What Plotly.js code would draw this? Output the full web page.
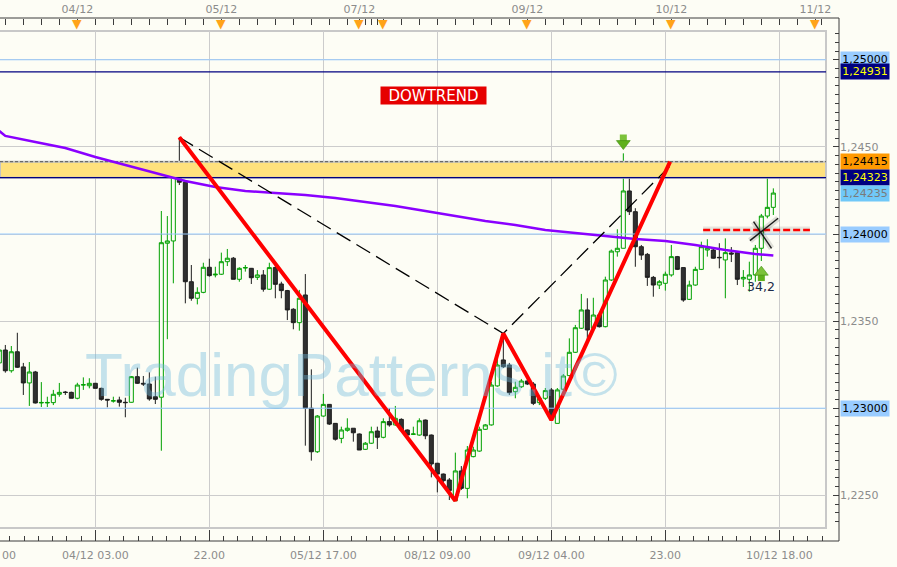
<!DOCTYPE html>
<html><head><meta charset="utf-8">
<script src="https://cdn.plot.ly/plotly-3.0.1.min.js"></script>
<style>html,body{margin:0;padding:0;background:#fdfdf5;}#chart{width:897px;height:567px;}</style>
</head><body><div id="chart"></div>
<script>
// ---------------- DATA ----------------
const slots = [-1,0,1,2,3,4,5,6,7,8,9,10,11,12,13,14,15,16,17,18,19,20,21,22,23,24,25,26,27,28,29,30,31,32,33,34,35,36,37,38,39,40,41,42,43,44,45,46,47,48,49,50,51,52,53,54,55,56,57,58,59,60,61,62,63,64,65,66,67,68,69,70,71,72,73,74,75,76,77,78,79,80,81,82,83,84,85,86,87,88,89,90,91,92,93,94,95,96,97,98,99,100,101,102,103,104,105,106,107,108,109,110,111,112,113,114,115,116,117,118,119,120,121,122,123,124,125,126,127,128];
const openP = [1.23260,1.23334,1.23215,1.23324,1.23237,1.23145,1.23208,1.23030,1.23030,1.23032,1.23080,1.23093,1.23091,1.23057,1.23133,1.23129,1.23143,1.23114,1.23051,1.23041,1.23047,1.23034,1.23034,1.23181,1.23143,1.23139,1.23066,1.23063,1.23947,1.23960,1.24348,1.24297,1.23726,1.23631,1.23665,1.23809,1.23765,1.23769,1.23841,1.23861,1.23740,1.23805,1.23803,1.23751,1.23765,1.23683,1.23807,1.23713,1.23675,1.23568,1.23491,1.23650,1.23000,1.22750,1.22955,1.23022,1.22913,1.22827,1.22873,1.22885,1.22852,1.22764,1.22799,1.22869,1.22833,1.22923,1.22904,1.22936,1.22875,1.22850,1.22846,1.22932,1.22846,1.22684,1.22622,1.22588,1.22469,1.22640,1.22540,1.22722,1.22754,1.22879,1.22904,1.23128,1.23277,1.23248,1.23095,1.23123,1.23156,1.23139,1.23032,1.23057,1.23105,1.22913,1.23109,1.23187,1.23321,1.23459,1.23564,1.23459,1.23535,1.23468,1.23736,1.23898,1.23918,1.24247,1.24128,1.23927,1.23883,1.23751,1.23707,1.23717,1.23765,1.23870,1.23807,1.23625,1.23707,1.23797,1.23908,1.23908,1.23866,1.23851,1.23891,1.23893,1.23742,1.23740,1.23765,1.23918,1.24103,1.24153];
const highP = [1.23346,1.23363,1.23357,1.23433,1.23260,1.23265,1.23214,1.23150,1.23066,1.23105,1.23145,1.23099,1.23095,1.23146,1.23177,1.23172,1.23145,1.23118,1.23053,1.23066,1.23066,1.23060,1.23185,1.23233,1.23185,1.23206,1.23181,1.24132,1.24103,1.24350,1.24555,1.24310,1.23822,1.23694,1.23835,1.23858,1.23812,1.23893,1.23914,1.23868,1.23809,1.23822,1.23805,1.23793,1.23793,1.23835,1.23835,1.23726,1.23679,1.23574,1.23679,1.23770,1.23223,1.22961,1.23082,1.23024,1.22915,1.22894,1.22942,1.22886,1.22855,1.22806,1.22894,1.22894,1.22942,1.23000,1.23013,1.22942,1.22878,1.22894,1.22942,1.22935,1.22849,1.22686,1.22625,1.22599,1.22745,1.22668,1.22783,1.22779,1.22894,1.22909,1.23152,1.23305,1.23429,1.23260,1.23152,1.23168,1.23164,1.23150,1.23064,1.23116,1.23116,1.23116,1.23196,1.23401,1.23478,1.23656,1.23631,1.23634,1.23547,1.23755,1.23911,1.24027,1.24463,1.24329,1.24148,1.23937,1.23891,1.23759,1.23736,1.23784,1.23937,1.23874,1.23808,1.23732,1.23812,1.23956,1.23970,1.23920,1.23947,1.23975,1.23925,1.23897,1.23793,1.23841,1.23937,1.24115,1.24339,1.24262];
const lowP = [1.23248,1.23204,1.23204,1.23231,1.23076,1.23013,1.23027,1.23007,1.23007,1.23018,1.23066,1.23076,1.23057,1.23051,1.23105,1.23114,1.23114,1.23043,1.23005,1.23032,1.23009,1.22948,1.23032,1.23139,1.23128,1.23043,1.23024,1.22756,1.23396,1.23717,1.24281,1.23602,1.23617,1.23596,1.23660,1.23755,1.23751,1.23765,1.23816,1.23740,1.23726,1.23784,1.23713,1.23736,1.23669,1.23679,1.23631,1.23631,1.23506,1.23453,1.23445,1.22785,1.22699,1.22743,1.22951,1.22904,1.22814,1.22799,1.22865,1.22808,1.22760,1.22760,1.22795,1.22766,1.22827,1.22894,1.22900,1.22865,1.22841,1.22846,1.22842,1.22822,1.22603,1.22517,1.22569,1.22473,1.22469,1.22531,1.22483,1.22718,1.22750,1.22875,1.22900,1.23123,1.23231,1.23076,1.23057,1.23116,1.23133,1.23018,1.23018,1.23047,1.22932,1.22913,1.23105,1.23185,1.23317,1.23455,1.23392,1.23455,1.23463,1.23464,1.23730,1.23870,1.23917,1.24109,1.23812,1.23851,1.23702,1.23640,1.23684,1.23675,1.23755,1.23793,1.23611,1.23621,1.23703,1.23793,1.23870,1.23859,1.23803,1.23631,1.23839,1.23707,1.23696,1.23669,1.23726,1.23845,1.24090,1.24109];
const closeP = [1.23334,1.23215,1.23324,1.23235,1.23145,1.23208,1.23030,1.23033,1.23033,1.23080,1.23091,1.23090,1.23057,1.23133,1.23135,1.23143,1.23114,1.23051,1.23047,1.23043,1.23034,1.23032,1.23181,1.23143,1.23139,1.23053,1.23051,1.23950,1.23960,1.24348,1.24297,1.23726,1.23631,1.23665,1.23809,1.23761,1.23769,1.23841,1.23861,1.23740,1.23803,1.23807,1.23749,1.23765,1.23683,1.23807,1.23711,1.23675,1.23564,1.23491,1.23631,1.23000,1.22750,1.22955,1.23022,1.22909,1.22822,1.22875,1.22885,1.22859,1.22760,1.22799,1.22865,1.22833,1.22923,1.22904,1.22942,1.22875,1.22846,1.22852,1.22928,1.22842,1.22680,1.22622,1.22584,1.22527,1.22640,1.22540,1.22760,1.22760,1.22879,1.22904,1.23133,1.23248,1.23238,1.23089,1.23120,1.23156,1.23139,1.23028,1.23057,1.23101,1.22951,1.23105,1.23185,1.23321,1.23462,1.23564,1.23449,1.23535,1.23468,1.23736,1.23902,1.23918,1.24247,1.24128,1.23927,1.23879,1.23751,1.23707,1.23726,1.23769,1.23870,1.23797,1.23621,1.23707,1.23797,1.23927,1.23918,1.23861,1.23864,1.23893,1.23885,1.23740,1.23751,1.23765,1.23918,1.24103,1.24153,1.24235];

// moving average (purple)
const maX = [-1,0,5,10,15,20,25,30,35,40,45,50,55,60,65,70,75,80,85,90,95,100,105,110,115,120,125,128];
const maY = [1.24591,1.24563,1.24528,1.24494,1.24442,1.24396,1.24350,1.24304,1.24270,1.24247,1.24235,1.24224,1.24207,1.24184,1.24161,1.24132,1.24103,1.24075,1.24052,1.24023,1.24006,1.23989,1.23971,1.23960,1.23937,1.23908,1.23885,1.23876];

// Dow-trend zigzag (red) and dashed swing line
const zigX = [29, 75, 83, 91, 110.8];
const zigY = [1.24555, 1.22469, 1.23429, 1.22932, 1.24415];
const swingX = [29, 83, 111.3];
const swingY = [1.24555, 1.23429, 1.24408];

// horizontal levels
const blueLevels = [1.25000, 1.24000, 1.23000];
const navyLevels = [1.24931, 1.24323];
const resistLevel = 1.24415;
const bandLevels = [1.24323, 1.24415];
const breakX = [116.3, 134.1];
const breakY = [1.24023, 1.24023];
const crossAX = [124.1, 128.8], crossAY = [1.23962, 1.24090];
const crossBX = [124.7, 127.7], crossBY = [1.24071, 1.23918];

// signals
const sigDownX = [103], sigDownHead = [1.24519], sigDownShaft = [1.24551];
const sigUpX = [126], sigUpHead = [1.23781], sigUpShaft = [1.23750];
const sigLabel = ["34,2"], sigLabelY = [1.23696];

// axes labels
const gridSlots = [15, 34, 53, 72, 91, 110, 129];
const gridLabels = ["04/12 03.00", "22.00", "05/12 17.00", "08/12 09.00", "09/12 04.00", "23.00", "10/12 18.00"];
const edgeLabel = "00";   // visible tail of the previous label at the left edge
const dayStarts = [12, 36, 59, 63, 87, 111, 135];
const dayLabels = ["04/12", "05/12", "07/12", "", "09/12", "10/12", "11/12"];
const yTickVals = [1.2250, 1.2300, 1.2350, 1.2400, 1.2450, 1.2500];
const yTickText = ["1,2250", "", "1,2350", "", "1,2450", ""];
const tagVals = [1.25000, 1.24931, 1.24415, 1.24323, closeP[closeP.length - 1], 1.24000, 1.23000];

// ---------------- LAYOUT HELPERS ----------------
const W = 897, H = 567;
const px = v => v / W, py = v => 1 - v / H;
const slotW = 6, slot0Px = 5.33;
const plotR = 826, plotT = 31, plotB = 528;
const xr = [(0 - slot0Px) / slotW, (plotR - slot0Px) / slotW];
const yr = [1.223124, 1.251652];
const xDomW = plotR / W;
const bg = '#fdfdf5';
const FONT = 'DejaVu Sans, Verdana, sans-serif';

function hlines(vals) {
  const x = [], y = [];
  vals.forEach(v => { x.push(xr[0], xr[1], null); y.push(v, v, null); });
  return {x, y};
}

// top-axis ticks
const topTicks = [], topText = [];
for (let t = dayStarts[0] - 3; t >= 0; t -= 3) { topTicks.push(t); topText.push(''); }
dayStarts.forEach((d, i) => {
  const next = i + 1 < dayStarts.length ? dayStarts[i + 1] : xr[1] + 1;
  const step = (next - d) < 12 ? 1 : 3;
  for (let t = d; t < next && t <= xr[1]; t += step) { topTicks.push(t); topText.push(t === d ? dayLabels[i] : ''); }
});

const traces = [];
traces.push({type: 'scatter', mode: 'lines', x: [xr[0], xr[1], xr[1], xr[0], xr[0]],
  y: [bandLevels[0], bandLevels[0], bandLevels[1], bandLevels[1], bandLevels[0]],
  fill: 'toself', fillcolor: '#ffe17d', line: {color: '#c4c4c4', width: 2}, hoverinfo: 'skip'});
const bl = hlines(blueLevels);
traces.push({type: 'scatter', mode: 'lines', x: bl.x, y: bl.y, line: {color: '#99ccff', width: 1}, hoverinfo: 'skip'});
const nl = hlines(navyLevels);
traces.push({type: 'scatter', mode: 'lines', x: nl.x, y: nl.y, line: {color: '#000080', width: 1.3}, hoverinfo: 'skip'});
const rl = hlines([resistLevel]);
traces.push({type: 'scatter', mode: 'lines', x: rl.x, y: rl.y, line: {color: '#555555', width: 1, dash: '3px,2px'}, hoverinfo: 'skip'});

traces.push({type: 'candlestick', x: slots, open: openP, high: highP, low: lowP, close: closeP,
  increasing: {line: {color: '#00a000', width: 1}, fillcolor: bg},
  decreasing: {line: {color: '#1e1e1e', width: 1}, fillcolor: '#303030'},
  whiskerwidth: 0, hoverinfo: 'skip'});

traces.push({type: 'scatter', mode: 'lines', x: maX, y: maY, line: {color: '#8a00ff', width: 2.5}, hoverinfo: 'skip'});
traces.push({type: 'scatter', mode: 'lines', x: swingX, y: swingY, line: {color: '#000000', width: 1.3, dash: '16px,7px'}, hoverinfo: 'skip'});
traces.push({type: 'scatter', mode: 'lines', x: zigX, y: zigY, line: {color: '#ff0000', width: 4}, hoverinfo: 'skip'});
traces.push({type: 'scatter', mode: 'lines', x: breakX, y: breakY, line: {color: 'rgba(120,120,120,0.18)', width: 7}, hoverinfo: 'skip'});
traces.push({type: 'scatter', mode: 'lines', x: breakX, y: breakY, line: {color: '#ff0000', width: 2.5, dash: '7px,3px'}, hoverinfo: 'skip'});
[[crossAX, crossAY], [crossBX, crossBY]].forEach(([cx, cy]) => {
  traces.push({type: 'scatter', mode: 'lines', x: cx, y: cy, line: {color: 'rgba(0,0,0,0.12)', width: 6}, hoverinfo: 'skip'});
  traces.push({type: 'scatter', mode: 'lines', x: cx, y: cy, line: {color: '#1a1a1a', width: 1.4}, hoverinfo: 'skip'});
});
const green = '#5fb01c';
traces.push({type: 'scatter', mode: 'markers', x: sigDownX, y: sigDownShaft, marker: {symbol: 'square', size: 7, color: '#7cc23a', line: {width: 0}}, hoverinfo: 'skip', cliponaxis: false});
traces.push({type: 'scatter', mode: 'markers', x: sigDownX, y: sigDownHead, marker: {symbol: 'triangle-down', size: 12, color: green, line: {color: '#3d8c0c', width: 0.6}}, hoverinfo: 'skip', cliponaxis: false});
traces.push({type: 'scatter', mode: 'markers', x: sigUpX, y: sigUpShaft, marker: {symbol: 'square', size: 7, color: green, line: {width: 0}}, hoverinfo: 'skip', cliponaxis: false});
traces.push({type: 'scatter', mode: 'markers', x: sigUpX, y: sigUpHead, marker: {symbol: 'triangle-up', size: 12, color: '#7cc23a', line: {color: '#3d8c0c', width: 0.6}}, hoverinfo: 'skip', cliponaxis: false});
// invisible trace to keep the top axis alive
traces.push({type: 'scatter', mode: 'markers', xaxis: 'x2', yaxis: 'y', x: [dayStarts[0]], y: [yr[0]],
  marker: {size: 1, color: 'rgba(0,0,0,0)'}, hoverinfo: 'skip'});

// ---------------- ANNOTATIONS ----------------
const annotations = [];
annotations.push({xref: 'paper', yref: 'paper', x: px(351), y: py(374), text: 'TradingPatterns.it©', showarrow: false,
  font: {family: 'Liberation Sans, Arial, sans-serif', size: 62, color: 'rgba(110,185,220,0.40)'},
  xanchor: 'center', yanchor: 'middle'});
// day-start markers: orange triangles on the top axis with a stem to the plot edge
dayStarts.forEach(d => annotations.push({xref: 'x', yref: 'paper', x: d, y: py(plotT), text: '▼',
  showarrow: true, arrowhead: 0, arrowwidth: 1, arrowcolor: '#222222', ax: 0, ay: -8, standoff: 0, startstandoff: 0,
  font: {family: FONT, size: 12.5, color: '#ffa31a'}, borderpad: 0}));
annotations.push({xref: 'x', yref: 'y', x: 71.3, y: 1.24794, text: 'DOWTREND', showarrow: false,
  font: {family: FONT, size: 15, color: '#ffffff'}, bgcolor: '#e60000', borderpad: 1, width: 103, height: 15,
  xanchor: 'center', yanchor: 'middle'});
const tagStyle = v => {
  if (v === 1.24931 || v === 1.24323) return {bg: '#000080', fg: '#ffff00'};
  if (v === 1.24415) return {bg: '#ff9900', fg: '#000000'};
  if (v === tagVals[4]) return {bg: '#70c8f8', fg: '#7a7a7a'};
  return {bg: '#99ccff', fg: '#000000'};
};
tagVals.forEach(v => {
  const s = tagStyle(v);
  annotations.push({xref: 'paper', yref: 'y', x: px(840), y: v, xanchor: 'left', yanchor: 'middle',
    text: v.toFixed(5).replace('.', ','), showarrow: false, bgcolor: s.bg, borderpad: 1, width: 46, height: 13,
    font: {family: FONT, size: 11, color: s.fg}});
});
sigLabel.forEach((t, i) => annotations.push({xref: 'x', yref: 'y', x: sigUpX[i], y: sigLabelY[i], text: t, showarrow: false,
  font: {family: FONT, size: 12.5, color: '#1c2a48'}, xanchor: 'center', yanchor: 'middle'}));
annotations.push({xref: 'paper', yref: 'paper', x: 0, y: py(555),
  text: edgeLabel, showarrow: false, font: {family: FONT, size: 11, color: '#8c8c8c'}, xanchor: 'left', yanchor: 'middle'});

// ---------------- SHAPES (frame) ----------------
const frame = '#3c3c3c', border = '#c8c8c8';
const shapes = [
  {type: 'line', xref: 'paper', yref: 'paper', x0: 0, x1: px(839), y0: py(18), y1: py(18), line: {color: frame, width: 1}},
  {type: 'line', xref: 'paper', yref: 'paper', x0: px(839), x1: px(839), y0: py(18), y1: py(541), line: {color: frame, width: 1}},
  {type: 'line', xref: 'paper', yref: 'paper', x0: 0, x1: px(839), y0: py(541), y1: py(541), line: {color: frame, width: 1}},
  {type: 'line', xref: 'paper', yref: 'paper', x0: 0, x1: px(827), y0: py(31), y1: py(31), line: {color: border, width: 2}, layer: 'below'},
  {type: 'line', xref: 'paper', yref: 'paper', x0: px(826), x1: px(826), y0: py(31), y1: py(528), line: {color: border, width: 2}, layer: 'below'},
  {type: 'line', xref: 'paper', yref: 'paper', x0: 0, x1: px(827), y0: py(528), y1: py(528), line: {color: border, width: 2}, layer: 'below'}
];

const layout = {
  width: W, height: H, margin: {l: 0, r: 0, t: 0, b: 0},
  paper_bgcolor: bg, plot_bgcolor: bg, showlegend: false,
  font: {family: FONT, size: 11, color: '#8c8c8c'},
  boxgap: 0.33, boxgroupgap: 0,
  xaxis: {domain: [0, xDomW], range: xr, anchor: 'free', position: py(541), side: 'bottom',
    rangeslider: {visible: false}, showline: false, zeroline: false,
    tickmode: 'array', tickvals: gridSlots, ticktext: gridLabels,
    ticks: 'inside', ticklen: 11, tickcolor: frame, tickwidth: 1, ticklabelstandoff: 6,
    minor: {tick0: gridSlots[0], dtick: (gridSlots[1] - gridSlots[0]) / 8, ticks: 'inside', ticklen: 5, tickcolor: frame, showgrid: false},
    showgrid: true, gridcolor: '#cccccc', gridwidth: 1,
    tickfont: {family: FONT, size: 11, color: '#8c8c8c'}, fixedrange: true},
  xaxis2: {overlaying: 'x', range: xr, anchor: 'free', position: py(18), side: 'top',
    showline: false, zeroline: false, showgrid: false,
    tickmode: 'array', tickvals: topTicks, ticktext: topText,
    ticks: 'inside', ticklen: 6, tickcolor: frame, tickwidth: 1, ticklabelstandoff: 3,
    tickfont: {family: FONT, size: 11, color: '#8c8c8c'}, fixedrange: true},
  yaxis: {domain: [py(plotB), py(plotT)], range: yr, anchor: 'free', position: px(839), side: 'right',
    showline: false, zeroline: false,
    tickmode: 'array', tickvals: yTickVals, ticktext: yTickText,
    ticks: 'inside', ticklen: 6, tickcolor: frame, tickwidth: 1,
    minor: {tick0: yTickVals[0], dtick: 0.0005, ticks: 'inside', ticklen: 4, tickcolor: frame, showgrid: false},
    showgrid: true, gridcolor: '#cccccc', gridwidth: 1,
    tickfont: {family: FONT, size: 11, color: '#8c8c8c'}, fixedrange: true},
  annotations, shapes
};

Plotly.newPlot('chart', traces, layout, {displayModeBar: false, staticPlot: true});
</script>
</body></html>
